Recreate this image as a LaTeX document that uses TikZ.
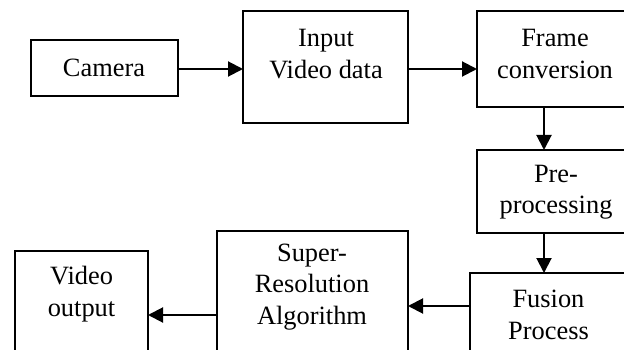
\documentclass[tikz,border=0pt]{standalone}
\usepackage{fontspec}
\setmainfont{Liberation Serif}
\usetikzlibrary{arrows.meta}
\begin{document}
\begin{tikzpicture}[x=1pt,y=-1pt,
  box/.style={draw, line width=1.2pt, inner sep=0pt, outer sep=0pt, anchor=north west},
  txt/.style={align=center, inner sep=0pt, font=\fontsize{26.4}{31.5}\selectfont},
  arr/.style={line width=2pt, -{Triangle[length=15pt,width=15pt]}}]
\useasboundingbox (0,0) rectangle (624,350);
\clip (0,0) rectangle (624,350);
% process boxes
\node[box, minimum width=147pt, minimum height=56pt]  (camera) at (31,40)  {};
\node[box, minimum width=165pt, minimum height=112pt] (input)  at (243,11) {};
\node[box, minimum width=156pt, minimum height=96pt]  (frame)  at (477,11) {};
\node[box, minimum width=156pt, minimum height=83pt]  (pre)    at (477,150) {};
\node[box, minimum width=157pt, minimum height=100pt] (fusion) at (470,273) {};
\node[box, minimum width=191pt, minimum height=140pt] (super)  at (217,231) {};
\node[box, minimum width=133pt, minimum height=130pt] (video)  at (15,251) {};
% box texts
\node[txt] (cameraT) at (104,68)  {Camera};
\node[txt] (inputT)  at (326,54)  {Input\\Video data};
\node[txt] (frameT)  at (555,54)  {Frame\\conversion};
\node[txt] (preT)    at (556,192) {Pre-\\processing};
\node[txt] (fusionT) at (548.5,315) {Fusion\\Process};
\node[txt] (superT)  at (312,287) {Super-\\Resolution\\Algorithm};
\node[txt] (videoT)  at (81.5,294) {Video\\output};
% flow arrows
\draw[arr] ([yshift=-1pt]camera.east) -- ([yshift=-1pt]camera.east -| input.west);
\draw[arr] ([yshift=-2pt]input.east) -- ([yshift=-2pt]input.east -| frame.west);
\draw[arr] ([xshift=-11pt]frame.south) -- ([xshift=-11pt]frame.south |- pre.north);
\draw[arr] ([xshift=-11pt]pre.south) -- ([xshift=-11pt]pre.south |- fusion.north);
\draw[arr] ([yshift=17pt]fusion.west) -- ([yshift=17pt]fusion.west -| super.east);
\draw[arr] ([yshift=-14pt]super.west) -- ([yshift=-14pt]super.west -| video.east);
\end{tikzpicture}
\end{document}
